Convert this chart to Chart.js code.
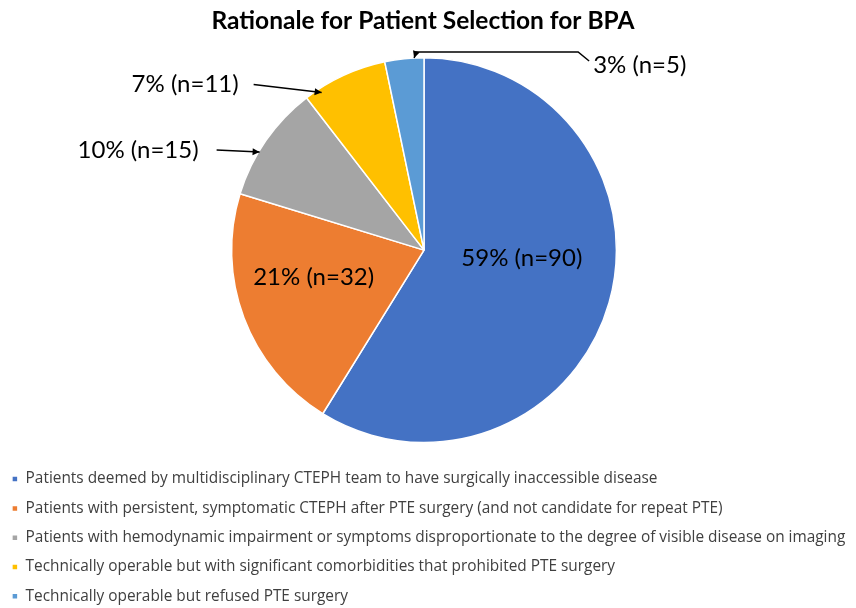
<!DOCTYPE html>
<html>
<head>
<meta charset="utf-8">
<script src="https://cdn.jsdelivr.net/npm/chart.js@4.4.0/dist/chart.umd.min.js"></script>
<style>
  html, body { margin: 0; padding: 0; background: #fff; }
  #wrap { width: 856px; height: 608px; }
</style>
</head>
<body>
<div id="wrap"><canvas id="chart"></canvas></div>
<script>
// data
const categories = [
  'Patients deemed by multidisciplinary CTEPH team to have surgically inaccessible disease',
  'Patients with persistent, symptomatic CTEPH after PTE surgery (and not candidate for repeat PTE)',
  'Patients with hemodynamic impairment or symptoms disproportionate to the degree of visible disease on imaging',
  'Technically operable but with significant comorbidities that prohibited PTE surgery',
  'Technically operable but refused PTE surgery'
];
const counts = [90, 32, 15, 11, 5];
const sliceColors = ['#4472C4', '#ED7D31', '#A5A5A5', '#FFC000', '#5B9BD5'];

const total = counts.reduce((a, b) => a + b, 0);
const labelText = counts.map(n => Math.round(n / total * 100) + '% (n=' + n + ')');

// where each label sits: fraction along the slice, fraction of radius,
// and for the outside ones a leader path relative to the arrow tip
const labelSpots = [
  {frac: 0.447, r: 0.51},
  {frac: 0.593, r: 0.59},
  {frac: 0.39, r: 0.995, path: [[-43, -2]], text: [-61, -2], align: 'right'},
  {frac: 0.18, r: 0.977, path: [[-68, -8]], text: [-83, -8], align: 'right'},
  {frac: 0.75, r: 1.0, path: [[175, 3], [164, -6], [2, -6]], text: [179, 7], align: 'left'}
];

const calloutPlugin = {
  id: 'callouts',
  afterDatasetsDraw(chart) {
    const ctx = chart.ctx;
    const arcs = chart.getDatasetMeta(0).data;
    ctx.save();
    ctx.font = '24px Lato';
    ctx.fillStyle = '#000';
    ctx.strokeStyle = '#000';
    ctx.lineWidth = 1.5;
    ctx.textBaseline = 'middle';
    arcs.forEach((arc, i) => {
      const p = arc.getProps(['x', 'y', 'startAngle', 'endAngle', 'outerRadius'], true);
      const spot = labelSpots[i];
      const a = p.startAngle + (p.endAngle - p.startAngle) * spot.frac;
      const tx = p.x + Math.cos(a) * p.outerRadius * spot.r;
      const ty = p.y + Math.sin(a) * p.outerRadius * spot.r;
      if (!spot.path) {
        ctx.textAlign = 'center';
        ctx.fillText(labelText[i], tx, ty);
        return;
      }
      // leader line
      ctx.beginPath();
      spot.path.forEach((pt, k) => {
        if (k === 0) ctx.moveTo(tx + pt[0], ty + pt[1]);
        else ctx.lineTo(tx + pt[0], ty + pt[1]);
      });
      ctx.lineTo(tx, ty);
      ctx.stroke();
      // arrow head
      const last = spot.path[spot.path.length - 1];
      const ang = Math.atan2(-last[1], -last[0]);
      ctx.beginPath();
      ctx.moveTo(tx, ty);
      ctx.lineTo(tx - 7 * Math.cos(ang) + 3.5 * Math.sin(ang), ty - 7 * Math.sin(ang) - 3.5 * Math.cos(ang));
      ctx.lineTo(tx - 7 * Math.cos(ang) - 3.5 * Math.sin(ang), ty - 7 * Math.sin(ang) + 3.5 * Math.cos(ang));
      ctx.closePath();
      ctx.fill();
      ctx.textAlign = spot.align;
      ctx.fillText(labelText[i], tx + spot.text[0], ty + spot.text[1]);
    });
    ctx.restore();
  }
};

new Chart(document.getElementById('chart'), {
  type: 'pie',
  data: {
    labels: categories,
    datasets: [{
      data: counts,
      backgroundColor: sliceColors,
      borderColor: '#fff',
      borderWidth: 1.5
    }]
  },
  options: {
    responsive: true,
    maintainAspectRatio: false,
    animation: false,
    layout: {padding: {left: -2, right: 8, top: 0, bottom: -6}},
    plugins: {
      title: {
        display: true,
        text: 'Rationale for Patient Selection for BPA',
        color: '#000',
        font: {family: 'Lato', size: 24.5, weight: 'bold'},
        padding: {top: 6, bottom: 21.6}
      },
      legend: {
        position: 'bottom',
        align: 'start',
        // empty title only used as a gap between pie and legend rows
        title: {display: true, text: ' ', font: {size: 1}, padding: {top: 13, bottom: 0}},
        labels: {
          color: '#404040',
          font: {family: 'Open Sans', size: 15.4},
          boxWidth: 6,
          boxHeight: 6,
          padding: 13.9
        }
      },
      tooltip: {enabled: false}
    }
  },
  plugins: [calloutPlugin]
});
</script>
</body>
</html>
